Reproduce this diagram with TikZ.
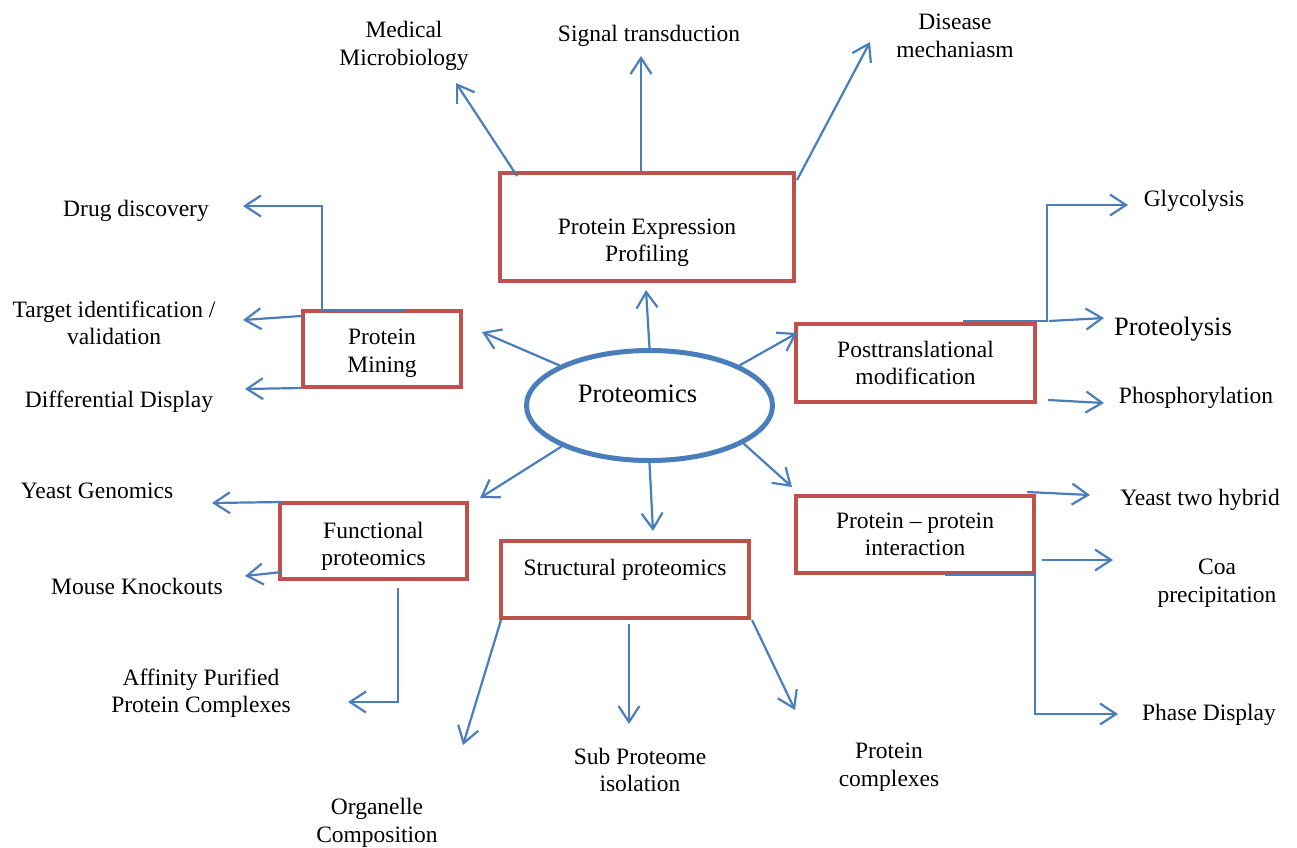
\documentclass[tikz,border=0pt]{standalone}
\usepackage{fontspec}
\setmainfont{Liberation Serif}
\usetikzlibrary{arrows.meta,shapes.geometric}
\definecolor{cblue}{RGB}{74,126,187}
\definecolor{cred}{RGB}{192,80,77}
\tikzset{
  box/.style={draw=cred,line width=4.5pt,rectangle,inner sep=0pt,align=center,fill=white},
  conn/.style={draw=cblue,line width=2.2pt,-{Straight Barb[length=16pt,width=21pt]}},
  lbl/.style={align=center,inner sep=0pt,yshift=-3pt},
  big/.style={font=\fontsize{26.5pt}{30pt}\selectfont}
}
\begin{document}
\begin{tikzpicture}[x=1pt,y=-1pt,font=\fontsize{23.5pt}{27.5pt}\selectfont]
\useasboundingbox (0,0) rectangle (1297,847);
\fill[white] (0,0) rectangle (1297,847);

% central ellipse
\node[ellipse,draw=cblue,line width=5pt,minimum width=246pt,minimum height=110pt,inner sep=0pt,
  label={[big,inner sep=0pt,xshift=-12pt,yshift=12pt]center:Proteomics}]
  (prot) at (649.5,405.5) {};

% boxes
\node[box,minimum width=294pt,minimum height=108pt] (pep) at (647,227) {\strut\\Protein Expression\\Profiling};
\node[box,minimum width=158pt,minimum height=76pt] (pm) at (382,349) {\rule{0pt}{24pt}Protein\\Mining};
\node[box,minimum width=239pt,minimum height=78pt] (ptm) at (915.5,363) {Posttranslational\\modification};
\node[box,minimum width=187pt,minimum height=76pt] (fp) at (373.5,541) {\rule{0pt}{27pt}Functional\\proteomics};
\node[box,minimum width=248pt,minimum height=77pt] (sp) at (625,579.5) {Structural proteomics\rule[-24pt]{0pt}{24pt}};
\node[box,minimum width=238pt,minimum height=77pt] (ppi) at (915,534.5) {Protein -- protein\\interaction};

% labels
\node[lbl] (medmic) at (404,43) {Medical\\Microbiology};
\node[lbl] (sig) at (649,33) {Signal transduction};
\node[lbl] (dis) at (955,33) {Disease\\mechaniasm};
\node[lbl] (drug) at (136,208) {Drug discovery};
\node[lbl] (targ) at (114,320) {Target identification /\\validation};
\node[lbl] (diff) at (119,399) {Differential Display};
\node[lbl] (gly) at (1194,198) {Glycolysis};
\node[lbl,big] (prl) at (1173,326) {Proteolysis};
\node[lbl] (phos) at (1196,395) {Phosphorylation};
\node[lbl] (ygen) at (97,488) {Yeast Genomics};
\node[lbl] (mouse) at (137,583) {Mouse Knockouts};
\node[lbl] (aff) at (201,690) {Affinity Purified\\Protein Complexes};
\node[lbl] (y2h) at (1200,497) {Yeast two hybrid};
\node[lbl] (coa) at (1217,580) {Coa\\precipitation};
\node[lbl] (phase) at (1209,712) {Phase Display};
\node[lbl] (org) at (377,820) {Organelle\\Composition};
\node[lbl] (sub) at (640,767) {Sub Proteome\\isolation};
\node[lbl] (pcx) at (889,764) {Protein\\complexes};

% connector end points
\coordinate (e1) at (646,290);
\coordinate (e2) at (482,332);
\coordinate (e3) at (797,333);
\coordinate (e4) at (480,498);
\coordinate (e5) at (653,531);
\coordinate (e6) at (792,487);

\coordinate (s7) at (517,176);  \coordinate (e7) at (456,83);
\coordinate (s8) at (641,171);  \coordinate (e8) at (641,56);
\coordinate (s9) at (797,180);  \coordinate (e9) at (870,42);

\coordinate (s10) at (405,310); \coordinate (b10) at (322,310); \coordinate (c10) at (322,206); \coordinate (e10) at (243,206);
\coordinate (s11) at (301,316); \coordinate (e11) at (243,320);
\coordinate (s12) at (301,388); \coordinate (e12) at (245,389);

\coordinate (s13) at (963,321); \coordinate (b13) at (1047,321); \coordinate (c13) at (1047,205); \coordinate (e13) at (1128,205);
\coordinate (s14) at (1049,321); \coordinate (e14) at (1104,318);
\coordinate (s15) at (1048,400); \coordinate (e15) at (1104,403);

\coordinate (s16) at (1027,492); \coordinate (e16) at (1090,495);
\coordinate (s17) at (1042,560); \coordinate (e17) at (1113,560);
\coordinate (s18) at (945,575); \coordinate (b18) at (1035,575); \coordinate (c18) at (1035,714); \coordinate (e18) at (1118,714);

\coordinate (s19) at (282,502); \coordinate (e19) at (212,503);
\coordinate (s20) at (282,572); \coordinate (e20) at (245,576);
\coordinate (s21) at (398,588); \coordinate (b21) at (398,702); \coordinate (e21) at (348,702);

\coordinate (s22) at (501,620); \coordinate (e22) at (463,745);
\coordinate (s23) at (629,624); \coordinate (e23) at (629,724);
\coordinate (s24) at (752,620); \coordinate (e24) at (795,710);

% connectors from Proteomics
\draw[conn] (prot.north) -- (e1);
\draw[conn] (prot.156) -- (e2);
\draw[conn] (prot.24) -- (e3);
\draw[conn] (prot.205) -- (e4);
\draw[conn] (prot.south) -- (e5);
\draw[conn] (prot.338) -- (e6);

% Protein Expression Profiling
\draw[conn] (s7) -- (e7);
\draw[conn] (s8) -- (e8);
\draw[conn] (s9) -- (e9);

% Protein Mining
\draw[conn] (s10) -- (b10) -- (c10) -- (e10);
\draw[conn] (s11) -- (e11);
\draw[conn] (s12) -- (e12);

% Posttranslational modification
\draw[conn] (s13) -- (b13) -- (c13) -- (e13);
\draw[conn] (s14) -- (e14);
\draw[conn] (s15) -- (e15);

% Protein-protein interaction
\draw[conn] (s16) -- (e16);
\draw[conn] (s17) -- (e17);
\draw[conn] (s18) -- (b18) -- (c18) -- (e18);

% Functional proteomics
\draw[conn] (s19) -- (e19);
\draw[conn] (s20) -- (e20);
\draw[conn] (s21) -- (b21) -- (e21);

% Structural proteomics
\draw[conn] (s22) -- (e22);
\draw[conn] (s23) -- (e23);
\draw[conn] (s24) -- (e24);
\end{tikzpicture}
\end{document}
